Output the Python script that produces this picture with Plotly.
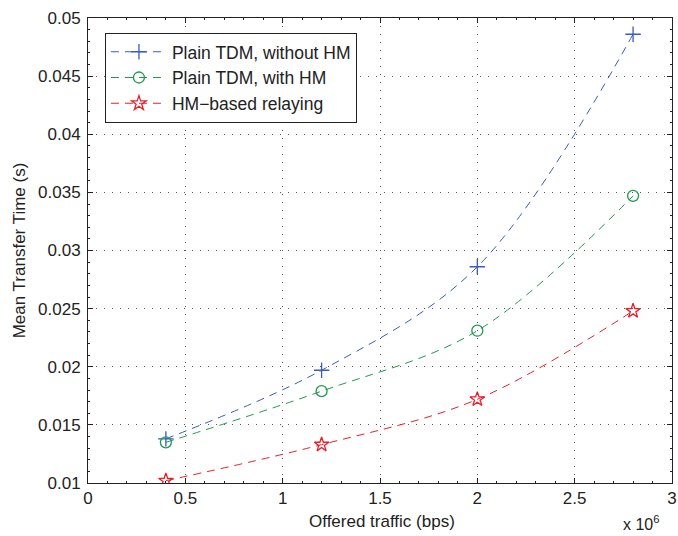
import plotly.graph_objects as go

# Offered traffic in units of 10^6 bps
traffic = [0.4, 1.2, 2.0, 2.8]
plain_without_hm = [0.0138, 0.0197, 0.0286, 0.0486]
plain_with_hm = [0.0135, 0.0179, 0.0231, 0.0347]
hm_relaying = [0.0102, 0.0133, 0.0172, 0.0248]

names = ["Plain TDM, without HM", "Plain TDM, with HM", "HM\u2212based relaying"]
colors = ["#3a5bbf", "#1f9a4f", "#e8202a"]
symbols = ["cross-thin-open", "circle-open", "star-open"]
series = [plain_without_hm, plain_with_hm, hm_relaying]

fig = go.Figure()
for name, ys, col, sym in zip(names, series, colors, symbols):
    fig.add_trace(go.Scatter(
        x=traffic, y=ys, name=name, mode="lines+markers",
        line=dict(color=col, width=1, dash="8px,6px", shape="spline", smoothing=1.0),
        marker=dict(symbol=sym, size=11, color=col, line=dict(color=col, width=1.3)),
    ))

font_family = "Liberation Sans, Arial, sans-serif"
fs = 17
axis_common = dict(
    showline=True, linecolor="#222", linewidth=1, mirror="ticks",
    ticks="inside", ticklen=5, tickcolor="#222",
    showgrid=True, gridcolor="#555", griddash="1px,7px", gridwidth=1,
    zeroline=False, automargin=False,
    tickfont=dict(family=font_family, size=fs, color="#222"),
)

fig.update_layout(
    width=678, height=536,
    paper_bgcolor="white", plot_bgcolor="white",
    margin=dict(l=88, r=6, t=18, b=53),
    font=dict(family=font_family, size=fs, color="#222"),
    xaxis=dict(range=[0, 3], dtick=0.5, tick0=0,
               minor=dict(ticks="inside", ticklen=2, dtick=0.1, tickcolor="#222", showgrid=False),
               ticklabeloverflow="allow",
               **axis_common),
    yaxis=dict(range=[0.01, 0.05], dtick=0.005, tick0=0.01,
               minor=dict(ticks="inside", ticklen=2, dtick=0.001, tickcolor="#222", showgrid=False),
               title=dict(text="Mean Transfer Time (s)", font=dict(size=fs), standoff=8),
               ticklabelstandoff=3,
               **axis_common),
    legend=dict(x=0.029, y=0.968, xanchor="left", yanchor="top",
                bgcolor="white", bordercolor="#222", borderwidth=1,
                font=dict(family=font_family, size=17.5, color="#222"),
                itemwidth=56, tracegroupgap=0),
    showlegend=True,
    annotations=[
        dict(text="Offered traffic (bps)", xref="paper", yref="paper",
             x=0.503, y=-0.083, xanchor="center", yanchor="middle",
             showarrow=False, font=dict(family=font_family, size=fs, color="#222")),
        dict(text="x 10<sup>6</sup>", xref="paper", yref="paper",
             x=0.982, y=-0.085, xanchor="right", yanchor="middle",
             showarrow=False, font=dict(family=font_family, size=16, color="#222")),
    ],
)

fig.write_html("out.html", config={"displayModeBar": False},
               post_script="document.body.style.margin='0';")
